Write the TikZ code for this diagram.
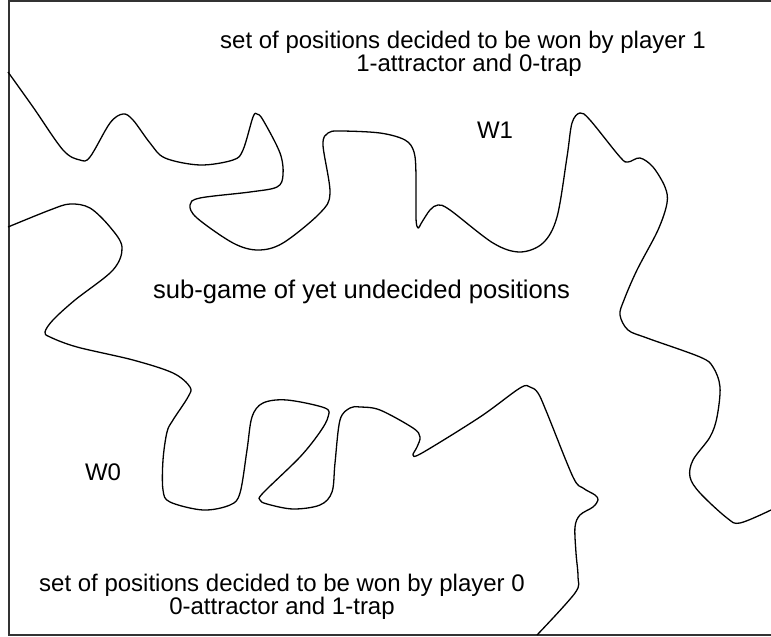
\documentclass[tikz,border=0pt]{standalone}
\usepackage{fontspec}
\setmainfont{Liberation Sans}
\begin{document}
\begin{tikzpicture}[x=1pt,y=-1pt,
  frameline/.style={draw=black!80,line width=2pt},
  region/.style={draw=black,line width=1.3pt,line join=round},
  lbl/.style={anchor=base,inner sep=0pt,text height=15pt,text depth=3pt,font=\fontsize{24}{24}\selectfont}]
\useasboundingbox (0,0) rectangle (771,637);
% frame
\draw[frameline] (775,1) -- (9,1) -- (9,635) -- (775,635);
% boundary of W1
\draw[region] plot[smooth,tension=0.55] coordinates {
(8,72) (33,107) (63,150) (80,160) (90,157) (110,123) (123,114) (133,120) (150,143) (165,158) (200,165) (233,160) (243,150) (253,117) (257,114) (263,120) (280,153) (283,175) (277,187) (250,192) (200,198) (190,205) (197,218) (233,243) (258,250) (283,243) (320,213) (330,193) (323,145) (328,133) (340,131) (380,133) (405,140) (414,152) (416,175) (416,218) (418,228) (422,222) (430,210) (438,205) (450,210) (493,243) (520,252) (543,243) (557,217) (567,157) (572,123) (580,113) (590,120) (620,157) (628,162) (640,158) (653,167) (665,187) (667,203) (658,230) (637,270) (624,300) (620,315) (628,330) (647,338) (700,357) (713,367) (720,387) (717,417) (710,437) (693,460) (690,477) (700,493) (727,518) (740,523) (771,510)};
% boundary of W0
\draw[region] plot[smooth,tension=0.55] coordinates {
(8,227) (50,210) (70,204) (90,208) (110,227) (122,247) (113,270) (75,300) (53,320) (45,332) (50,337) (77,347) (133,360) (173,373) (190,387) (188,397) (173,420) (167,432) (163,460) (163,490) (170,502) (203,510) (230,505) (240,493) (247,450) (252,417) (263,403) (287,400) (325,408) (328,417) (320,432) (300,457) (263,493) (260,500) (267,504) (293,509) (320,505) (332,492) (335,463) (340,420) (350,408) (360,407) (380,410) (413,428) (420,437) (417,447) (413,455) (422,453) (480,417) (520,388) (530,387) (538,393) (547,413) (573,477) (583,488) (595,495) (598,500) (593,507) (580,515) (575,527) (576,553) (578,577) (575,593) (537,635)};
% labels
\node[lbl] (top1) at (463,48.5) {set of positions decided to be won by player 1};
\node[lbl] (top2) at (469,71.5) {1-attractor and 0-trap};
\node[lbl] (w1) at (495,138) {W1};
\node[lbl,font=\fontsize{25.6}{25.6}\selectfont] (sub) at (361.5,298) {sub-game of yet undecided positions};
\node[lbl] (w0) at (103,480) {W0};
\node[lbl] (bot1) at (282,591.5) {set of positions decided to be won by player 0};
\node[lbl] (bot2) at (282,614.5) {0-attractor and 1-trap};
\end{tikzpicture}
\end{document}
